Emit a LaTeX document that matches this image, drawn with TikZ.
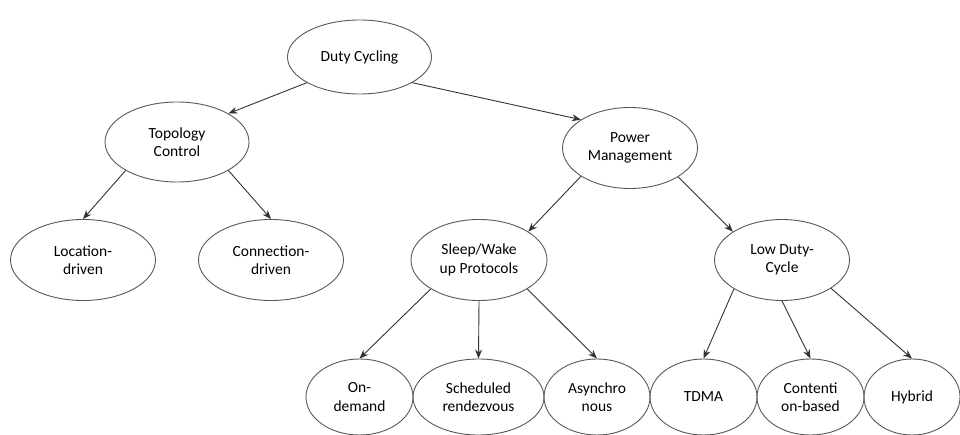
\documentclass[tikz,border=0pt]{standalone}
\usepackage{fontspec}
\setmainfont{Carlito}
\usetikzlibrary{shapes.geometric,arrows.meta}
\begin{document}
\begin{tikzpicture}[x=1pt,y=-1pt,
  el/.style={draw=black!65, line width=0.9pt, ellipse, inner sep=0pt, align=center,
    font=\fontsize{15.5}{18.5}\selectfont, text=black},
  arr/.style={draw=black!80, line width=0.9pt, -{Stealth[length=9pt,width=7pt]}}]
\clip (0,0) rectangle (960,435);
\fill[white] (0,0) rectangle (960,435);
\node[el, minimum width=144pt, minimum height=74pt] (duty) at (359.5,57) {Duty Cycling};
\node[el, minimum width=144pt, minimum height=80pt] (topo) at (177,142) {Topology\\Control};
\node[el, minimum width=145pt, minimum height=81pt] (loc) at (83,260) {Location-\\driven};
\node[el, minimum width=145pt, minimum height=81pt] (conn) at (271,260) {Connection-\\driven};
\node[el, minimum width=135pt, minimum height=81pt] (power) at (630,148) {Power\\Management};
\node[el, minimum width=136pt, minimum height=81pt] (sleep) at (479,260) {Sleep/Wake\\up Protocols};
\node[el, minimum width=135pt, minimum height=81pt] (low) at (782,260) {Low Duty-\\Cycle};
\node[el, minimum width=107pt, minimum height=76pt] (ond) at (359.5,397) {On-\\demand};
\node[el, minimum width=131pt, minimum height=76pt] (sched) at (478.5,397) {Scheduled\\rendezvous};
\node[el, minimum width=106pt, minimum height=76pt] (async) at (597,397) {Asynchro\\nous};
\node[el, minimum width=107pt, minimum height=76pt] (tdma) at (703.5,397) {TDMA};
\node[el, minimum width=107pt, minimum height=76pt] (cont) at (810.5,397) {Contenti\\on-based};
\node[el, minimum width=96pt, minimum height=76pt] (hyb) at (912,397) {Hybrid};
\draw[arr] (duty.206) -- (topo.29);
\draw[arr] (duty.334) -- (power.150);
\draw[arr] (topo.209) -- (loc.north);
\draw[arr] (topo.331) -- (conn.north);
\draw[arr] (power.210) -- (sleep.30);
\draw[arr] (power.329) -- (low.150);
\draw[arr] (sleep.211) -- (ond.north);
\draw[arr] (sleep.south) -- (sched.north);
\draw[arr] (sleep.329) -- (async.north);
\draw[arr] (low.211) -- (tdma.north);
\draw[arr] (low.south) -- (cont.north);
\draw[arr] (low.330) -- (hyb.north);
\end{tikzpicture}
\end{document}
